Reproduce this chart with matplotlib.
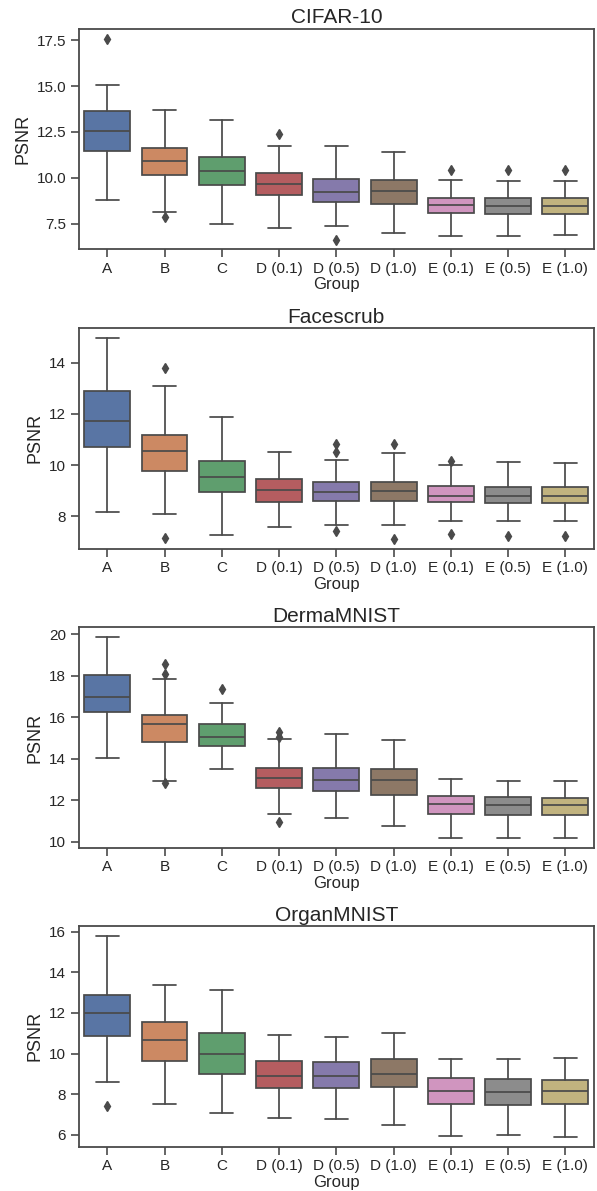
import matplotlib
matplotlib.use("Agg")
import matplotlib.pyplot as plt
from matplotlib.ticker import MultipleLocator
import seaborn as sns

groups = ["A", "B", "C", "D (0.1)", "D (0.5)", "D (1.0)", "E (0.1)", "E (0.5)", "E (1.0)"]
titles = ["CIFAR-10", "Facescrub", "DermaMNIST", "OrganMNIST"]

# five-number summaries per group: lower whisker, Q1, median, Q3, upper whisker
cifar_stats = [
    [8.80, 11.44, 12.56, 13.62, 15.05],
    [8.15, 10.18, 10.89, 11.63, 13.67],
    [7.48, 9.62, 10.38, 11.13, 13.13],
    [7.28, 9.04, 9.67, 10.29, 11.74],
    [7.37, 8.66, 9.22, 9.95, 11.73],
    [6.97, 8.60, 9.29, 9.89, 11.40],
    [6.86, 8.08, 8.50, 8.91, 9.89],
    [6.86, 8.04, 8.48, 8.91, 9.84],
    [6.90, 8.04, 8.48, 8.89, 9.84],
]
cifar_fliers = [[17.55], [7.86], [], [12.38], [6.62], [], [10.40], [10.40], [10.40]]

face_stats = [
    [8.18, 10.71, 11.72, 12.89, 14.95],
    [8.09, 9.79, 10.56, 11.18, 13.08],
    [7.29, 8.94, 9.54, 10.18, 11.90],
    [7.60, 8.56, 9.02, 9.45, 10.53],
    [7.65, 8.62, 8.96, 9.36, 10.21],
    [7.67, 8.62, 8.99, 9.36, 10.47],
    [7.84, 8.56, 8.79, 9.19, 9.99],
    [7.81, 8.51, 8.78, 9.15, 10.12],
    [7.81, 8.51, 8.79, 9.13, 10.08],
]
face_fliers = [[], [13.78, 7.17], [], [], [10.82, 10.52, 7.44], [10.84, 7.13],
               [10.18, 7.32], [7.22], [7.22]]

derma_stats = [
    [14.02, 16.23, 16.95, 18.02, 19.84],
    [12.94, 14.82, 15.67, 16.11, 17.83],
    [13.52, 14.64, 15.06, 15.67, 16.67],
    [11.33, 12.61, 13.09, 13.57, 14.95],
    [11.17, 12.44, 12.96, 13.55, 15.19],
    [10.78, 12.26, 12.96, 13.49, 14.90],
    [10.21, 11.36, 11.81, 12.20, 13.03],
    [10.21, 11.31, 11.80, 12.16, 12.94],
    [10.21, 11.30, 11.76, 12.13, 12.94],
]
derma_fliers = [[], [18.56, 18.08, 12.82], [17.35], [15.30, 15.04, 10.98], [], [], [], [], []]

organ_stats = [
    [8.60, 10.88, 12.01, 12.88, 15.79],
    [7.51, 9.63, 10.65, 11.55, 13.39],
    [7.07, 9.01, 9.96, 11.02, 13.13],
    [6.84, 8.32, 8.89, 9.62, 10.90],
    [6.77, 8.29, 8.91, 9.60, 10.81],
    [6.49, 8.36, 8.99, 9.73, 11.01],
    [5.94, 7.53, 8.14, 8.81, 9.74],
    [5.99, 7.46, 8.12, 8.73, 9.73],
    [5.89, 7.50, 8.14, 8.70, 9.76],
]
organ_fliers = [[7.43], [], [], [], [], [], [], [], []]

all_stats = [cifar_stats, face_stats, derma_stats, organ_stats]
all_fliers = [cifar_fliers, face_fliers, derma_fliers, organ_fliers]
ylims = [(6.11, 18.12), (6.74, 15.35), (9.71, 20.32), (5.41, 16.28)]
ysteps = [2.5, 2, 2, 2]

sns.set_theme(style="ticks")
plt.rcParams["font.family"] = ["Arial", "Liberation Sans", "DejaVu Sans"]

colors = [sns.desaturate(c, 0.75) for c in sns.color_palette("deep", 9)]
line_col = "#4a4a4a"
lw = 1.25

fig = plt.figure(figsize=(5.97, 11.91), dpi=100)
bottoms = [0.7907, 0.5393, 0.2880, 0.0372]

for k in range(4):
    ax = fig.add_axes([0.1318, bottoms[k], 0.8632, 0.1852])
    bxp_stats = []
    for i, s in enumerate(all_stats[k]):
        bxp_stats.append({"whislo": s[0], "q1": s[1], "med": s[2], "q3": s[3],
                          "whishi": s[4], "fliers": all_fliers[k][i], "label": groups[i]})
    res = ax.bxp(bxp_stats, positions=range(len(groups)), widths=0.8,
                 patch_artist=True, showfliers=True,
                 boxprops=dict(edgecolor=line_col, linewidth=lw),
                 medianprops=dict(color=line_col, linewidth=lw),
                 whiskerprops=dict(color=line_col, linewidth=lw),
                 capprops=dict(color=line_col, linewidth=lw),
                 flierprops=dict(marker="d", markersize=5, markerfacecolor=line_col,
                                 markeredgecolor=line_col))
    for patch, c in zip(res["boxes"], colors):
        patch.set_facecolor(c)
    for cap in res["caps"]:
        x = cap.get_xdata()
        mid = (x[0] + x[1]) / 2
        cap.set_xdata([mid - 0.2, mid + 0.2])
    ax.set_xlim(-0.5, len(groups) - 0.5)
    ax.set_ylim(*ylims[k])
    ax.yaxis.set_major_locator(MultipleLocator(ysteps[k]))
    ax.set_xticks(range(len(groups)))
    ax.set_xticklabels(groups)
    ax.tick_params(labelsize=11, length=6, width=1.2, color=line_col, pad=3,
                   labelcolor="#262626")
    for sp in ax.spines.values():
        sp.set_color(line_col)
        sp.set_linewidth(1.3)
    ax.set_title(titles[k], fontsize=15, pad=4)
    ax.set_xlabel("Group", fontsize=12, labelpad=1)
    ax.set_ylabel("PSNR", fontsize=13, labelpad=4)

fig.savefig("out.png", dpi=100)
